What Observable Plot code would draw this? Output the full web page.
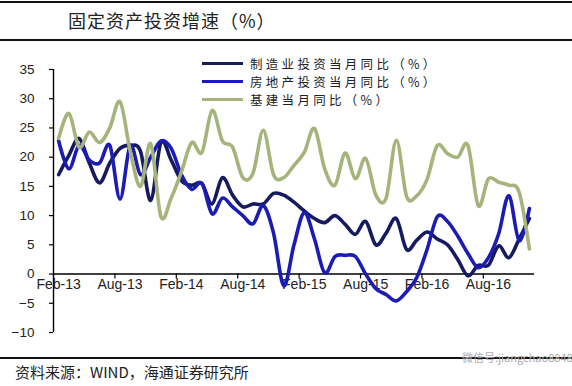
<!DOCTYPE html>
<html><head><meta charset="utf-8">
<script src="https://cdn.jsdelivr.net/npm/d3@7"></script>
<script src="https://cdn.jsdelivr.net/npm/@observablehq/plot@0.6"></script>
<style>
html,body{margin:0;padding:0;background:#fff;}
#page{position:relative;width:572px;height:386px;overflow:hidden;font-family:"Liberation Sans",Arial,sans-serif;}
.rule{position:absolute;left:0;width:572px;background:#111;}
#title{position:absolute;left:68px;top:8px;font-family:"Noto Sans CJK SC",sans-serif;font-size:18px;color:#222;letter-spacing:1px;white-space:nowrap;line-height:24px;}
#chart{position:absolute;left:0;top:45px;}
.leg{position:absolute;left:202px;height:16px;white-space:nowrap;}
.leg span.sw{position:absolute;left:0;top:6px;width:41px;height:3.5px;}
.leg span.tx{position:absolute;left:48px;top:0px;font-family:"Noto Sans CJK SC",sans-serif;font-size:12.5px;letter-spacing:3.3px;color:#222;line-height:15px;}
#source{position:absolute;left:15px;top:362px;font-family:"Noto Sans CJK SC",sans-serif;font-size:15px;color:#222;white-space:nowrap;line-height:20px;}
#wm{position:absolute;left:462px;top:350px;font-family:"Noto Sans CJK SC",sans-serif;font-size:11px;color:#aaa;white-space:nowrap;line-height:14px;}
</style></head>
<body>
<div id="page">
  <div class="rule" style="top:1px;height:2px;"></div>
  <div id="title">固定资产投资增速（%）</div>
  <div class="rule" style="top:39px;height:1.5px;"></div>
  <div id="chart"></div>
  <div id="legend"></div>
  <div class="rule" style="top:357px;height:1.5px;"></div>
  <div id="wm">微信号:jiangchao8848</div>
  <div id="source">资料来源：WIND，海通证券研究所</div>
</div>
<script>
// Monthly categories, Feb-2013 .. Dec-2016
const months = [
  "2013-02","2013-03","2013-04","2013-05","2013-06","2013-07","2013-08","2013-09","2013-10","2013-11","2013-12",
  "2014-01","2014-02","2014-03","2014-04","2014-05","2014-06","2014-07","2014-08","2014-09","2014-10","2014-11","2014-12",
  "2015-01","2015-02","2015-03","2015-04","2015-05","2015-06","2015-07","2015-08","2015-09","2015-10","2015-11","2015-12",
  "2016-01","2016-02","2016-03","2016-04","2016-05","2016-06","2016-07","2016-08","2016-09","2016-10","2016-11","2016-12"
];
// Tick labels (every 6 months)
const tickMonths = ["2013-02","2013-08","2014-02","2014-08","2015-02","2015-08","2016-02","2016-08"];
const tickLabels = ["Feb-13","Aug-13","Feb-14","Aug-14","Feb-15","Aug-15","Feb-16","Aug-16"];
const yTicks = [-10,-5,0,5,10,15,20,25,30,35];

// Series names
const seriesNames = ["制造业投资当月同比（%）","房地产投资当月同比（%）","基建当月同比（%）"];
const seriesColors = ["#161a5e","#1c1cb4","#a6b47c"];

// 制造业投资当月同比
const manufacturing = [17,20.3,23.2,19,15.6,19,21.5,22,21,12.6,22.5,19.5,16,15.2,15.5,12,16.5,13.5,11.5,12,12,13.8,13.5,12.3,10.8,9.5,8.8,10,8.5,6.8,9,5,7,9.5,4.2,5.8,7.2,6,5,2.5,-0.3,1.5,1.5,4.8,2.8,6,9.5];
// 房地产投资当月同比
const realEstate = [22.8,18,22,19.5,19,22,12.8,22,17,20,22.8,21.5,17,14.5,15.5,10.3,13,11.5,10,8.6,11.7,7,-2,5,10.5,6,0.2,3,3.2,3,0,-2.5,-3.5,-4.6,-3,-0.6,4.2,9.8,9,6.5,3.5,1.1,2.8,6.9,13.4,5.7,11.2];
// 基建当月同比
const infrastructure = [23.2,27.5,21.7,24.3,22.5,25,29.5,21,15,22.3,9.8,13,17.5,22.5,20.8,28,22.8,21.7,16.5,17.3,24.6,17,16.5,18.6,20.8,24.9,18,15.2,20.7,16.3,19.8,13.5,13,22.9,13.3,13.4,16.2,22,20.6,20,22,11.7,16.3,15.7,15.2,14,4.3];

const allSeries = [manufacturing, realEstate, infrastructure];
const rows = [];
allSeries.forEach((vals, s) => vals.forEach((v, i) => rows.push({i, month: months[i], v, name: seriesNames[s]})));
const tickIdx = tickMonths.map(m => months.indexOf(m));

const chart = Plot.plot({
  width: 572, height: 310,
  marginTop: 24, marginBottom: 23, marginLeft: 53, marginRight: 38,
  style: {fontFamily: '"Liberation Sans", Arial, sans-serif', fontSize: "13.5px", color: "#222", background: "transparent"},
  x: {domain: [-0.5, months.length - 0.5], axis: null},
  y: {domain: [-10, 35], axis: null},
  color: {domain: seriesNames, range: seriesColors},
  marks: [
    Plot.axisY({ticks: yTicks, label: null, tickSize: 4, tickPadding: 15, stroke: "#000", strokeWidth: 1.2, fill: "#222"}),
    Plot.ruleX([-0.5], {y1: -10, y2: 35, stroke: "#000", strokeWidth: 1.4}),
    Plot.ruleY([0], {x1: -0.5, x2: months.length - 0.5, stroke: "#000", strokeWidth: 1.4}),
    Plot.ruleX(tickIdx.map(i => i - 0.5), {y1: 0, y2: -0.85, stroke: "#000", strokeWidth: 1.2}),
    Plot.text(tickIdx, {x: d => d, y: 0, text: (d, k) => tickLabels[k], dy: 10, fontSize: 14, fill: "#222"}),
    Plot.line(rows, {x: "i", y: "v", z: "name", stroke: "name", curve: "cardinal", strokeWidth: 3.6, strokeLinejoin: "round", strokeLinecap: "round"})
  ]
});
document.getElementById("chart").appendChild(chart);

// legend overlay
const legTops = [55.5, 73.7, 91.9];
const leg = document.getElementById("legend");
seriesNames.forEach((n, k) => {
  const d = document.createElement("div");
  d.className = "leg";
  d.style.top = legTops[k] + "px";
  d.innerHTML = `<span class="sw" style="background:${seriesColors[k]}"></span><span class="tx">${n}</span>`;
  leg.appendChild(d);
});
</script>
</body></html>
